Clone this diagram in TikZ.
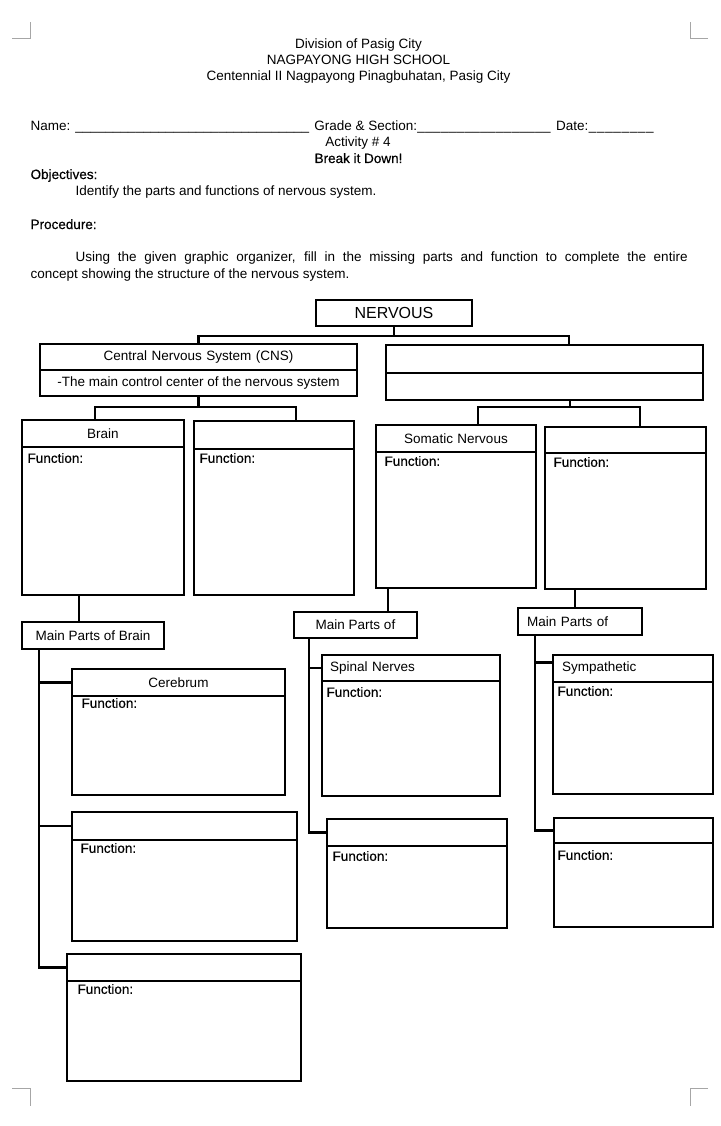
\documentclass[tikz,border=0pt]{standalone}
\usepackage{fontspec}
\setmainfont{Liberation Sans}
\newfontfamily\medfont{Liberation Sans}[FakeBold=0.5]
\usetikzlibrary{positioning}

\newcommand\docsize{\fontsize{13.5}{16}\selectfont}
\newcommand\bigsize{\fontsize{16}{19}\selectfont}
\newcommand\blankline[1]{\xleaders\hbox{\_}\hskip#1\relax}

\begin{document}
\begin{tikzpicture}
[x=1pt, y=-1pt, line width=1.2pt,
page/.style={inner sep=0pt, anchor=base, font=\docsize},
head/.style={rectangle, draw, inner sep=0pt, outer sep=0pt, minimum height=27pt, align=center, font=\docsize},
body/.style={rectangle, draw, inner sep=0pt, outer sep=0pt},
fn/.style={anchor=west, inner sep=0pt, font=\docsize\medfont},
tag/.style={rectangle, draw, inner sep=0pt, outer sep=0pt, minimum height=27pt, font=\docsize},
link/.style={line width=2.8pt},
cropmark/.style={draw=black!35, line width=0.8pt}]

\useasboundingbox (0,0) rectangle (720,1126);

% crop marks
\draw[cropmark] (12,38) -- (30,38) -- (30,22);
\draw[cropmark] (708,38) -- (690,38) -- (690,22);
\draw[cropmark] (12,1088) -- (30,1088) -- (30,1106);
\draw[cropmark] (708,1088) -- (690,1088) -- (690,1106);

% heading
\node[page] (division) at (358.5,49) {Division of Pasig City};
\node[page] (school) at (358.5,65) {NAGPAYONG HIGH SCHOOL};
\node[page] (address) at (358.5,81) {Centennial II Nagpayong Pinagbuhatan, Pasig City};
\node[page, anchor=base west] (name) at (30,131)
  {Name: \blankline{234pt} Grade \& Section:\blankline{134pt}\hspace{5pt}Date:\blankline{66pt}\null};
\node[page] (activity) at (358,147) {Activity \# 4};
\node[page, font=\docsize\medfont] (title) at (358.5,163) {Break it Down!};
\node[page, anchor=base west, font=\docsize\medfont] (objectives) at (30,179) {Objectives:};
\node[page, anchor=base west] (objective) at (75,196) {Identify the parts and functions of nervous system.};
\node[page, anchor=base west, font=\docsize\medfont] (procedure) at (30,229) {Procedure:};
\node[page, anchor=base west] (using) at (75,261)
  {\makebox[612pt][s]{Using the given graphic organizer, fill in the missing parts and function to complete the entire}};
\node[page, anchor=base west] (concept) at (30,278) {concept showing the structure of the nervous system.};

% organizer
\node[head, text width=156pt, minimum height=26pt, font=\bigsize] (nervous) at (394,313) {NERVOUS};

\node[head, text width=317pt, minimum height=26pt] (cns) at (198.5,357) {Central Nervous System (CNS)};
\node[body, below=0pt of cns, minimum width=317pt, minimum height=26pt, font=\docsize] (cnsbody)
  {-The main control center of the nervous system};
\node[head, text width=317pt, minimum height=28pt] (pns) at (544.5,359) {};
\node[body, below=0pt of pns, minimum width=317pt, minimum height=27pt] (pnsbody) {};

\node[head, text width=162pt] (brain) at (103,433.5) {Brain};
\node[body, below=0pt of brain, minimum width=162pt, minimum height=148pt] (brainbody) {};
\node[fn] (brainfn) at ([shift={(5,11)}]brainbody.north west) {Function:};

\node[head, text width=160pt, minimum height=28pt] (cord) at (274,435) {};
\node[body, below=0pt of cord, minimum width=160pt, minimum height=146pt] (cordbody) {};
\node[fn] (cordfn) at ([shift={(5,9)}]cordbody.north west) {Function:};

\node[head, text width=160pt] (somatic) at (456,438.5) {Somatic Nervous};
\node[body, below=0pt of somatic, minimum width=160pt, minimum height=136pt] (somaticbody) {};
\node[fn] (somaticfn) at ([shift={(8,9)}]somaticbody.north west) {Function:};

\node[head, text width=161pt, minimum height=26pt] (auto) at (625.5,440) {};
\node[body, below=0pt of auto, minimum width=161pt, minimum height=136pt] (autobody) {};
\node[fn] (autofn) at ([shift={(8,9)}]autobody.north west) {Function:};

\node[tag, minimum width=142pt] (mpbrain) at (93,635.5) {Main Parts of Brain};
\node[tag, minimum width=123pt, minimum height=26pt] (mpsom) at (355.5,625) {Main Parts of};
\node[tag, minimum width=124pt, text width=124pt, align=left] (mpaut) at (580,621.5) {\hspace*{9pt}Main Parts of};

\node[head, text width=213pt] (cerebrum) at (178.5,682.5) {Cerebrum};
\node[body, below=0pt of cerebrum, minimum width=213pt, minimum height=99pt] (cerebrumbody) {};
\node[fn] (cerebrumfn) at ([shift={(9,7)}]cerebrumbody.north west) {Function:};

\node[head, text width=225pt, minimum height=28pt] (brainb) at (184.5,826) {};
\node[body, below=0pt of brainb, minimum width=225pt, minimum height=101pt] (brainbbody) {};
\node[fn] (brainbfn) at ([shift={(8,8)}]brainbbody.north west) {Function:};

\node[head, text width=234pt] (brainc) at (184,967.5) {};
\node[body, below=0pt of brainc, minimum width=234pt, minimum height=100pt] (braincbody) {};
\node[fn] (braincfn) at ([shift={(10,8)}]braincbody.north west) {Function:};

\node[head, text width=178pt, minimum height=26pt, align=left] (spinal) at (411,668) {\hspace*{8pt}Spinal Nerves};
\node[body, below=0pt of spinal, minimum width=178pt, minimum height=115pt] (spinalbody) {};
\node[fn] (spinalfn) at ([shift={(4,11)}]spinalbody.north west) {Function:};

\node[head, text width=180pt] (spinalb) at (417,832.5) {};
\node[body, below=0pt of spinalb, minimum width=180pt, minimum height=82pt] (spinalbbody) {};
\node[fn] (spinalbfn) at ([shift={(5,10)}]spinalbbody.north west) {Function:};

\node[head, text width=160pt, align=left] (symp) at (633,668.5) {\hspace*{9pt}Sympathetic};
\node[body, below=0pt of symp, minimum width=160pt, minimum height=112pt] (sympbody) {};
\node[fn] (sympfn) at ([shift={(4,9)}]sympbody.north west) {Function:};

\node[head, text width=159pt, minimum height=25pt] (sympb) at (633.5,830.5) {};
\node[body, below=0pt of sympb, minimum width=159pt, minimum height=84pt] (sympbbody) {};
\node[fn] (sympbfn) at ([shift={(3,12)}]sympbbody.north west) {Function:};

% connectors
\draw[link] (nervous.south) -- ++(0,10) -| (cns.north);
\draw[link] (nervous.south) -- ++(0,10) -| ([xshift=24.5]pns.north);
\draw[link] (cnsbody.south) -- ++(0,11) -| ([xshift=-8]brain.north);
\draw[link] (cnsbody.south) -- ++(0,11) -| ([xshift=22]cord.north);
\draw[link] ([xshift=25.5]pnsbody.south) -- ++(0,7) -| ([xshift=22]somatic.north);
\draw[link] ([xshift=25.5]pnsbody.south) -- ++(0,7) -| ([xshift=14.5]auto.north);

\draw[link] ([xshift=57]brainbody.south west) coordinate (b1) -- (b1 |- mpbrain.north);
\draw[link] ([xshift=12]somaticbody.south west) coordinate (s1) -- (s1 |- mpsom.north);
\draw[link] ([xshift=30]autobody.south west) coordinate (a1) -- (a1 |- mpaut.north);

\draw[link] ([xshift=17]mpbrain.south west) |- (cerebrum.west);
\draw[link] ([xshift=17]mpbrain.south west) |- (brainb.west);
\draw[link] ([xshift=17]mpbrain.south west) |- (brainc.west);
\draw[link] ([xshift=15]mpsom.south west) |- (spinal.west);
\draw[link] ([xshift=15]mpsom.south west) |- (spinalb.west);
\draw[link] ([xshift=17]mpaut.south west) |- ([yshift=6]symp.west);
\draw[link] ([xshift=17]mpaut.south west) |- (sympb.west);
\end{tikzpicture}
\end{document}
